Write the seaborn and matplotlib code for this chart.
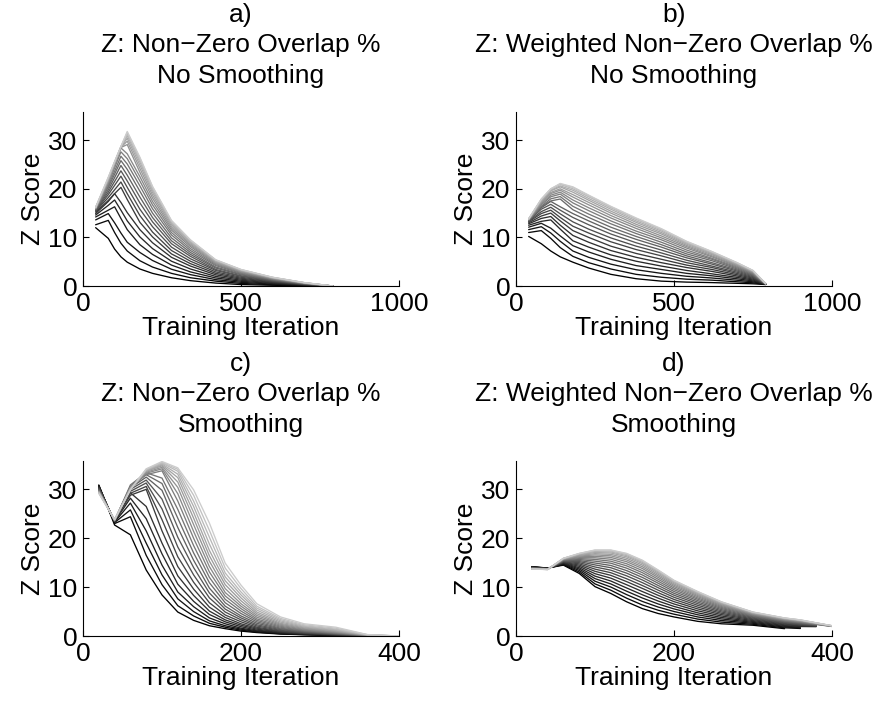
import matplotlib
matplotlib.use("Agg")
import matplotlib.pyplot as plt
import pandas as pd
import seaborn as sns

# ---- data: Z score per training run, one row per run (darkest run first) ----
iters_a = [40, 80, 100, 120, 140, 180, 220, 280, 340, 420, 500, 600, 700, 790]
z_a = [
    [12.0, 9.8, 7.6, 6.0, 4.9, 3.5, 2.6, 1.7, 1.1, 0.6, 0.3, 0.15, 0.05, 0.0],
    [12.6, 13.5, 11.0, 8.8, 7.2, 5.2, 3.9, 2.6, 1.7, 1.0, 0.53, 0.27, 0.1, 0.0],
    [13.6, 14.9, 13.0, 10.9, 9.0, 6.9, 5.25, 3.45, 2.34, 1.31, 0.76, 0.39, 0.15, 0.0],
    [14.2, 15.6, 16.3, 13.9, 11.6, 8.5, 6.5, 4.3, 2.9, 1.65, 0.98, 0.51, 0.19, 0.0],
    [14.6, 16.6, 17.7, 15.6, 13.4, 10.1, 7.7, 5.1, 3.5, 1.97, 1.19, 0.62, 0.24, 0.0],
    [14.9, 17.4, 19.0, 17.2, 15.1, 11.6, 8.9, 5.9, 4.1, 2.3, 1.4, 0.73, 0.28, 0.0],
    [15.2, 17.6, 19.0, 20.3, 17.8, 13.1, 10.1, 6.6, 4.6, 2.6, 1.6, 0.84, 0.32, 0.0],
    [15.4, 18.2, 19.8, 21.4, 19.0, 14.5, 11.1, 7.3, 5.1, 2.9, 1.8, 0.94, 0.36, 0.0],
    [15.5, 18.8, 20.7, 22.6, 20.3, 15.8, 12.2, 8.0, 5.6, 3.2, 2.0, 1.03, 0.4, 0.0],
    [15.6, 19.3, 21.5, 23.7, 21.6, 17.1, 13.2, 8.7, 6.1, 3.4, 2.1, 1.13, 0.43, 0.0],
    [15.7, 19.8, 22.3, 24.8, 22.8, 18.3, 14.1, 9.3, 6.5, 3.7, 2.3, 1.21, 0.47, 0.0],
    [15.8, 20.3, 23.0, 25.8, 24.0, 19.5, 15.0, 9.9, 6.9, 3.9, 2.45, 1.3, 0.5, 0.0],
    [15.8, 20.6, 23.6, 26.7, 25.1, 20.6, 15.9, 10.5, 7.3, 4.2, 2.6, 1.37, 0.53, 0.0],
    [15.9, 21.0, 24.3, 27.6, 26.2, 21.6, 16.7, 11.0, 7.7, 4.4, 2.74, 1.45, 0.56, 0.0],
    [15.9, 21.3, 24.8, 28.4, 27.2, 22.5, 17.4, 11.5, 8.1, 4.6, 2.87, 1.52, 0.59, 0.0],
    [16.0, 21.5, 25.0, 28.5, 29.1, 23.4, 18.1, 11.9, 8.4, 4.75, 2.98, 1.58, 0.61, 0.0],
    [16.0, 21.7, 25.1, 28.55, 29.8, 24.2, 18.7, 12.3, 8.65, 4.9, 3.09, 1.63, 0.63, 0.0],
    [16.1, 21.9, 25.3, 28.6, 30.4, 24.9, 19.25, 12.7, 8.9, 5.06, 3.18, 1.68, 0.65, 0.0],
    [16.1, 22.0, 25.4, 28.6, 30.9, 25.5, 19.7, 12.97, 9.12, 5.18, 3.26, 1.73, 0.67, 0.0],
    [16.1, 22.2, 25.5, 28.65, 31.3, 26.0, 20.1, 13.2, 9.3, 5.29, 3.33, 1.76, 0.69, 0.0],
    [16.2, 22.3, 25.55, 28.7, 31.6, 26.3, 20.4, 13.4, 9.43, 5.36, 3.38, 1.79, 0.7, 0.0],
    [16.2, 22.4, 25.6, 28.7, 31.8, 26.5, 20.5, 13.5, 9.5, 5.4, 3.4, 1.8, 0.7, 0.0],
]

iters_b = [40, 80, 110, 140, 180, 230, 300, 380, 460, 540, 620, 700, 750, 790]
z_b = [
    [10.2, 8.7, 7.2, 6.0, 4.9, 3.7, 2.4, 1.5, 1.0, 0.8, 0.7, 0.55, 0.45, 0.3],
    [11.0, 11.4, 9.8, 7.9, 6.1, 4.8, 3.5, 2.4, 1.8, 1.4, 1.2, 0.87, 0.66, 0.32],
    [11.6, 12.2, 10.9, 9.2, 7.2, 5.9, 4.5, 3.35, 2.6, 2.0, 1.65, 1.18, 0.86, 0.33],
    [12.1, 12.9, 11.9, 10.3, 8.3, 7.0, 5.5, 4.2, 3.4, 2.6, 2.1, 1.48, 1.05, 0.34],
    [12.5, 13.3, 13.6, 11.7, 9.3, 8.0, 6.4, 5.1, 4.1, 3.2, 2.5, 1.77, 1.24, 0.36],
    [12.8, 13.9, 14.3, 12.5, 10.4, 9.0, 7.3, 5.9, 4.8, 3.8, 3.0, 2.05, 1.42, 0.37],
    [13.0, 14.4, 15.0, 13.4, 11.4, 10.0, 8.2, 6.7, 5.5, 4.3, 3.4, 2.32, 1.6, 0.38],
    [13.2, 14.9, 15.6, 14.1, 12.3, 10.9, 9.1, 7.5, 6.2, 4.8, 3.8, 2.58, 1.76, 0.4],
    [13.3, 15.3, 16.2, 14.85, 13.2, 11.7, 9.9, 8.2, 6.8, 5.3, 4.1, 2.83, 1.92, 0.41],
    [13.4, 15.8, 16.8, 15.6, 14.1, 12.6, 10.7, 8.9, 7.4, 5.8, 4.5, 3.07, 2.08, 0.42],
    [13.5, 16.1, 17.4, 16.3, 14.9, 13.4, 11.4, 9.6, 8.0, 6.2, 4.8, 3.29, 2.22, 0.43],
    [13.55, 16.3, 17.5, 17.9, 15.7, 14.1, 12.1, 10.2, 8.5, 6.6, 5.2, 3.5, 2.36, 0.44],
    [13.6, 16.4, 17.93, 18.4, 16.4, 14.8, 12.8, 10.8, 9.0, 7.0, 5.5, 3.7, 2.49, 0.45],
    [13.6, 16.7, 18.36, 18.9, 17.1, 15.5, 13.4, 11.3, 9.5, 7.4, 5.7, 3.89, 2.61, 0.46],
    [13.65, 16.9, 18.69, 19.3, 17.7, 16.1, 14.0, 11.85, 9.9, 7.8, 6.0, 4.07, 2.73, 0.47],
    [13.7, 17.2, 19.02, 19.7, 18.3, 16.7, 14.5, 12.3, 10.3, 8.1, 6.2, 4.23, 2.83, 0.47],
    [13.7, 17.3, 19.25, 20.0, 18.8, 17.2, 15.0, 12.7, 10.7, 8.35, 6.45, 4.37, 2.92, 0.48],
    [13.75, 17.5, 19.58, 20.4, 19.3, 17.65, 15.4, 13.1, 11.0, 8.6, 6.65, 4.5, 3.01, 0.49],
    [13.75, 17.6, 19.71, 20.6, 19.7, 18.0, 15.8, 13.4, 11.3, 8.8, 6.8, 4.61, 3.08, 0.49],
    [13.8, 17.8, 19.94, 20.9, 20.0, 18.35, 16.1, 13.7, 11.55, 9.0, 6.95, 4.7, 3.14, 0.5],
    [13.8, 17.85, 19.97, 21.0, 20.3, 18.6, 16.3, 13.9, 11.7, 9.13, 7.05, 4.77, 3.18, 0.5],
    [13.8, 17.9, 20.0, 21.1, 20.4, 18.7, 16.4, 14.0, 11.8, 9.2, 7.1, 4.8, 3.2, 0.5],
]

iters_c = [20, 40, 60, 80, 100, 120, 140, 160, 180, 200, 220, 250, 280, 320, 360, 400]
z_c = [
    [30.9, 22.7, 20.7, 13.5, 8.4, 4.9, 3.2, 2.1, 1.5, 1.0, 0.7, 0.4, 0.25, 0.1, 0.0, 0.0],
    [30.8, 23.0, 24.4, 16.5, 10.5, 6.2, 4.1, 2.6, 1.8, 1.2, 0.8, 0.45, 0.28, 0.12, 0.01, 0.0],
    [30.7, 23.2, 25.8, 19.0, 12.5, 7.6, 5.0, 3.1, 2.1, 1.4, 0.9, 0.5, 0.32, 0.14, 0.02, 0.0],
    [30.6, 23.3, 27.2, 21.5, 14.5, 9.0, 6.0, 3.7, 2.5, 1.6, 1.05, 0.6, 0.37, 0.17, 0.02, 0.0],
    [30.5, 23.4, 28.2, 24.0, 16.8, 10.6, 7.1, 4.4, 2.9, 1.9, 1.2, 0.7, 0.42, 0.2, 0.03, 0.0],
    [30.4, 23.4, 29.3, 26.5, 19.0, 12.3, 8.3, 5.1, 3.3, 2.2, 1.4, 0.8, 0.48, 0.23, 0.03, 0.0],
    [30.3, 23.5, 28.8, 30.0, 21.5, 14.2, 9.6, 5.9, 3.8, 2.5, 1.6, 0.9, 0.55, 0.27, 0.04, 0.0],
    [30.2, 23.5, 29.2, 30.6, 23.8, 16.2, 11.0, 6.8, 4.3, 2.9, 1.8, 1.0, 0.62, 0.31, 0.05, 0.0],
    [30.1, 23.5, 29.6, 31.3, 26.0, 18.2, 12.5, 7.8, 4.9, 3.3, 2.05, 1.15, 0.7, 0.36, 0.06, 0.0],
    [30.0, 23.6, 30.0, 31.9, 28.0, 20.2, 14.0, 8.8, 5.5, 3.7, 2.3, 1.3, 0.8, 0.41, 0.07, 0.0],
    [29.9, 23.6, 30.3, 32.5, 29.8, 22.2, 15.5, 9.8, 6.1, 4.1, 2.6, 1.45, 0.9, 0.47, 0.08, 0.0],
    [29.8, 23.6, 30.6, 33.0, 31.2, 24.1, 17.0, 10.9, 6.8, 4.6, 2.9, 1.6, 1.0, 0.53, 0.09, 0.0],
    [29.7, 23.6, 30.9, 33.4, 32.3, 25.9, 18.5, 12.0, 7.5, 5.1, 3.2, 1.8, 1.1, 0.6, 0.1, 0.0],
    [29.65, 23.7, 30.5, 33.0, 33.8, 27.6, 20.0, 13.1, 8.2, 5.6, 3.5, 2.0, 1.2, 0.68, 0.11, 0.0],
    [29.6, 23.7, 30.4, 33.3, 34.2, 29.1, 21.4, 14.2, 8.9, 6.1, 3.85, 2.2, 1.35, 0.77, 0.13, 0.0],
    [29.55, 23.7, 30.3, 33.5, 34.5, 30.4, 22.8, 15.3, 9.7, 6.6, 4.2, 2.4, 1.5, 0.87, 0.15, 0.0],
    [29.5, 23.75, 30.2, 33.7, 34.8, 31.5, 24.1, 16.4, 10.5, 7.2, 4.55, 2.6, 1.65, 0.98, 0.17, 0.0],
    [29.45, 23.75, 30.1, 33.8, 35.0, 32.4, 25.3, 17.5, 11.3, 7.8, 4.9, 2.85, 1.8, 1.1, 0.19, 0.0],
    [29.4, 23.8, 30.0, 33.9, 35.2, 33.1, 26.5, 18.8, 12.1, 8.4, 5.3, 3.1, 1.95, 1.25, 0.21, 0.0],
    [29.3, 23.8, 30.0, 34.0, 35.4, 33.7, 27.6, 20.2, 12.9, 9.0, 5.7, 3.35, 2.1, 1.4, 0.24, 0.0],
    [29.25, 23.8, 29.9, 34.1, 35.55, 34.1, 28.8, 21.6, 13.9, 9.7, 6.1, 3.6, 2.3, 1.6, 0.27, 0.0],
    [29.2, 23.8, 29.9, 34.2, 35.7, 34.4, 29.9, 23.1, 14.9, 10.4, 6.6, 3.9, 2.5, 1.8, 0.3, 0.0],
]

# runs stop at different iterations, so rows here have different lengths
iters_d = [20, 40, 60, 80, 100, 120, 140, 160, 180, 200, 230, 260, 300, 340, 360, 380, 400]
z_d = [
    [14.2, 13.9, 14.5, 12.8, 10.1, 8.7, 7.0, 5.6, 4.6, 3.9, 3.0, 2.5, 2.2, 1.5],
    [14.16, 13.88, 14.6, 13.1, 10.66, 9.37, 7.74, 6.34, 5.27, 4.46, 3.46, 2.84, 2.4, 1.67, 1.54],
    [14.13, 13.86, 14.71, 13.41, 11.21, 10.02, 8.47, 7.07, 5.92, 5.01, 3.9, 3.17, 2.6, 1.83, 1.68],
    [14.09, 13.83, 14.81, 13.7, 11.74, 10.65, 9.17, 7.77, 6.55, 5.54, 4.34, 3.49, 2.79, 1.98, 1.82],
    [14.06, 13.81, 14.9, 13.97, 12.25, 11.25, 9.83, 8.43, 7.15, 6.05, 4.74, 3.79, 2.97, 2.13, 1.94, 1.91],
    [14.02, 13.79, 15.0, 14.25, 12.75, 11.84, 10.49, 9.09, 7.74, 6.55, 5.15, 4.09, 3.15, 2.28, 2.07, 1.99],
    [13.99, 13.77, 15.08, 14.51, 13.23, 12.41, 11.13, 9.73, 8.31, 7.03, 5.54, 4.38, 3.33, 2.42, 2.19, 2.06],
    [13.96, 13.76, 15.17, 14.76, 13.68, 12.95, 11.72, 10.32, 8.85, 7.48, 5.91, 4.65, 3.49, 2.55, 2.31, 2.12],
    [13.93, 13.74, 15.25, 15.0, 14.12, 13.47, 12.31, 10.91, 9.37, 7.92, 6.27, 4.91, 3.65, 2.68, 2.42, 2.19],
    [13.9, 13.72, 15.33, 15.23, 14.54, 13.97, 12.86, 11.46, 9.87, 8.34, 6.61, 5.16, 3.8, 2.8, 2.52, 2.25],
    [13.88, 13.71, 15.4, 15.44, 14.93, 14.43, 13.38, 11.98, 10.33, 8.73, 6.93, 5.4, 3.94, 2.92, 2.62, 2.31],
    [13.85, 13.69, 15.47, 15.65, 15.31, 14.89, 13.88, 12.48, 10.79, 9.11, 7.24, 5.63, 4.08, 3.03, 2.72, 2.36, 1.95],
    [13.83, 13.68, 15.54, 15.84, 15.67, 15.3, 14.35, 12.95, 11.2, 9.47, 7.53, 5.84, 4.2, 3.13, 2.81, 2.42, 1.97],
    [13.81, 13.66, 15.6, 16.02, 16.0, 15.7, 14.78, 13.38, 11.6, 9.8, 7.79, 6.04, 4.32, 3.23, 2.89, 2.46, 1.99],
    [13.79, 13.65, 15.66, 16.19, 16.31, 16.07, 15.2, 13.8, 11.97, 10.11, 8.05, 6.23, 4.44, 3.32, 2.97, 2.51, 2.01],
    [13.77, 13.64, 15.71, 16.35, 16.59, 16.4, 15.56, 14.16, 12.3, 10.39, 8.28, 6.39, 4.54, 3.4, 3.04, 2.55, 2.03],
    [13.75, 13.63, 15.76, 16.49, 16.84, 16.7, 15.9, 14.5, 12.6, 10.64, 8.48, 6.55, 4.63, 3.48, 3.11, 2.59, 2.05],
    [13.74, 13.62, 15.8, 16.61, 17.08, 16.98, 16.21, 14.81, 12.88, 10.88, 8.67, 6.69, 4.71, 3.55, 3.17, 2.62, 2.07],
    [13.72, 13.61, 15.84, 16.72, 17.26, 17.2, 16.45, 15.05, 13.1, 11.06, 8.83, 6.8, 4.78, 3.6, 3.21, 2.65, 2.08],
    [13.71, 13.61, 15.87, 16.81, 17.43, 17.4, 16.67, 15.27, 13.3, 11.23, 8.96, 6.9, 4.84, 3.65, 3.26, 2.67, 2.09],
    [13.7, 13.6, 15.89, 16.87, 17.54, 17.53, 16.82, 15.42, 13.43, 11.34, 9.05, 6.96, 4.88, 3.68, 3.28, 2.69, 2.1],
    [13.7, 13.6, 15.9, 16.9, 17.6, 17.6, 16.9, 15.5, 13.5, 11.4, 9.1, 7.0, 4.9, 3.7, 3.3, 2.7, 2.1],
]

titles = [
    "a)\nZ: Non\u2212Zero Overlap %\nNo Smoothing",
    "b)\nZ: Weighted Non\u2212Zero Overlap %\nNo Smoothing",
    "c)\nZ: Non\u2212Zero Overlap %\nSmoothing",
    "d)\nZ: Weighted Non\u2212Zero Overlap %\nSmoothing",
]
xticks_top = [0, 500, 1000]
xticks_bottom = [0, 200, 400]
yticks = [0, 10, 20, 30]

# ---- styling ----
sns.set_theme(style="white")
plt.rcParams.update({
    "font.family": ["Liberation Sans", "DejaVu Sans"],
    "font.size": 19,
    "axes.linewidth": 0.8,
    "axes.edgecolor": "black",
    "xtick.bottom": True,
    "ytick.left": True,
    "xtick.direction": "in",
    "ytick.direction": "in",
    "xtick.major.size": 4,
    "ytick.major.size": 4,
    "xtick.major.width": 0.8,
    "ytick.major.width": 0.8,
    "xtick.color": "black",
    "ytick.color": "black",
    "text.color": "black",
    "axes.labelcolor": "black",
})

fig = plt.figure(figsize=(8.86, 7.03), dpi=100)
W, H = 886, 703
boxes = [(83, 112, 316, 174), (516, 112, 316, 174),
         (83, 461, 316, 175), (516, 461, 316, 175)]


def long_table(iters, rows):
    recs = []
    for run, row in enumerate(rows):
        for it, z in zip(iters, row):
            recs.append((it, z, run))
    return pd.DataFrame(recs, columns=["iteration", "z", "run"])


panels = [(iters_a, z_a, 1000, xticks_top),
          (iters_b, z_b, 1000, xticks_top),
          (iters_c, z_c, 400, xticks_bottom),
          (iters_d, z_d, 400, xticks_bottom)]

for (iters, rows, xmax, xt), (l, t, w, h), title in zip(panels, boxes, titles):
    ax = fig.add_axes([l / W, 1 - (t + h) / H, w / W, h / H])
    df = long_table(iters, rows)
    n = len(rows)
    greys = [str(round(0.8 * i / (n - 1), 3)) for i in range(n)]
    sns.lineplot(data=df, x="iteration", y="z", hue="run", palette=greys,
                 legend=False, estimator=None, sort=False, linewidth=0.95, ax=ax)
    ax.set_xlim(0, xmax)
    ax.set_ylim(0, 35.8)
    ax.set_xticks(xt)
    ax.set_yticks(yticks)
    ax.tick_params(labelsize=19, pad=4)
    ax.set_xlabel("Training Iteration", fontsize=19, labelpad=0)
    ax.set_ylabel("Z Score", fontsize=19, labelpad=2)
    ax.set_title(title, fontsize=19, linespacing=1.35, pad=21)
    for side in ("top", "right"):
        ax.spines[side].set_visible(False)

fig.savefig("out.png", dpi=100)
